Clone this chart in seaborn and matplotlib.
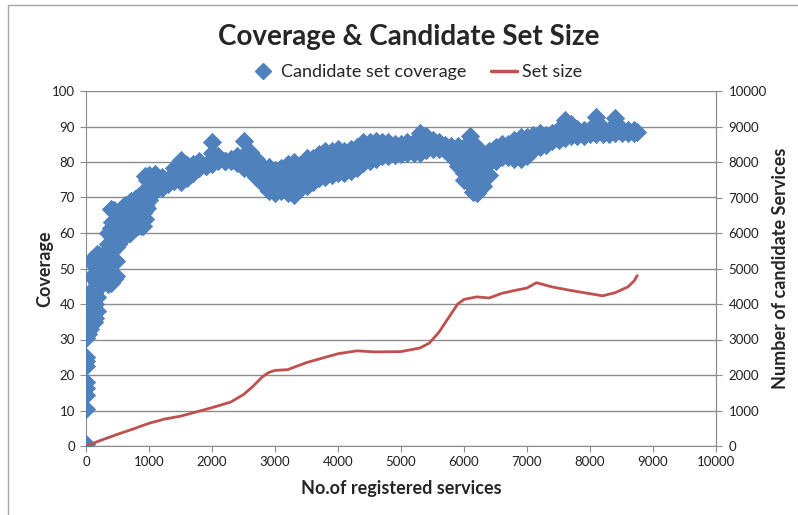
import matplotlib
matplotlib.use("Agg")
import matplotlib.pyplot as plt
from matplotlib.lines import Line2D
import seaborn as sns
import pandas as pd

# registered services (x) with low / middle / high coverage readings per column
col_x = [100, 200, 300, 400, 500, 600, 700, 800, 900, 1000,
         1100, 1200, 1300, 1400, 1500, 1600, 1700, 1800, 1900, 2000,
         2100, 2200, 2300, 2400, 2500, 2600, 2700, 2800, 2900, 3000,
         3100, 3200, 3300, 3400, 3500, 3600, 3700, 3800, 3900, 4000,
         4100, 4200, 4300, 4400, 4500, 4600, 4700, 4800, 4900, 5000,
         5100, 5200, 5300, 5400, 5500, 5600, 5700, 5800, 5900, 6000,
         6100, 6200, 6300, 6400, 6500, 6600, 6700, 6800, 6900, 7000,
         7100, 7200, 7300, 7400, 7500, 7600, 7700, 7800, 7900, 8000,
         8100, 8200, 8300, 8400, 8500, 8600, 8700]
cov_lo = [35, 45, 46.8, 46, 57, 59, 60, 62, 62, 69.4,
          71.8, 72.8, 73.8, 74.6, 74.3, 75.5, 76.8, 78.3, 78.8, 79.3,
          80.2, 80.2, 80.2, 79.8, 78.3, 77.8, 75.8, 74.1, 71.8, 71.3,
          71.8, 71.3, 70.8, 72.3, 73.1, 74.3, 75.5, 75.8, 76.3, 76.8,
          77, 77.4, 78.3, 79.8, 80.3, 80.8, 81.6, 81.8, 82.1, 82.3,
          82.5, 82.5, 82.5, 83.3, 83.8, 83.8, 83.3, 81.8, 78.8, 74.8,
          73.8, 71.2, 73.1, 76.3, 80.3, 81.3, 81.3, 80.8, 80.8, 81.8,
          83.3, 84.3, 84.8, 85.8, 86.3, 86.8, 87.3, 87.3, 87.3, 87.8,
          87.8, 87.8, 88, 88.3, 88.3, 88.3, 88.3]
cov_mid = [44, 49.5, 50, 56.5, 61.5, 63.5, 64.5, 65.8, 65.5, 72.8,
           74.2, 74.3, 74.5, 76.4, 77.5, 77.3, 78.1, 79.3, 79, 82.4,
           81, 80.3, 80.5, 80.8, 82, 80.2, 78.3, 76.5, 75.2, 74.5,
           75, 75.4, 75.3, 75.8, 77.1, 77.8, 78.9, 79.5, 79.8, 80.2,
           80.1, 80.5, 81.3, 82.8, 83, 83.4, 83.7, 83.6, 83.6, 83.8,
           84, 84, 85.3, 85.2, 85, 84.8, 84, 83.2, 81.7, 79.5,
           80.5, 77.7, 77.6, 79.7, 82.2, 83.3, 83.3, 83.5, 83.9, 84.4,
           85.5, 86.2, 86.3, 87, 87.7, 89.2, 89, 88.2, 88.1, 88.5,
           90.3, 88.7, 88.4, 90.3, 88.7, 88.6, 88.6]
cov_hi = [52.7, 53.7, 53.7, 66.7, 66, 67.7, 68.6, 69.6, 69.2, 76.2,
          76.6, 75.7, 75.2, 78.2, 80.7, 79.2, 79.4, 80.4, 79.2, 85.5,
          81.8, 80.4, 80.8, 81.8, 86, 82.7, 80.8, 79, 78.7, 77.7,
          78.2, 79.4, 79.9, 79.2, 81.2, 81.2, 82.2, 83.2, 83.2, 83.7,
          83.2, 83.7, 84.2, 85.7, 85.7, 86, 85.7, 85.5, 85.2, 85.2,
          85.5, 85.5, 88.1, 87.2, 86.2, 85.7, 84.7, 84.6, 84.6, 84.2,
          87.2, 84.2, 82.2, 83.2, 84.2, 85.2, 85.2, 86.2, 87, 87,
          87.7, 88.2, 87.7, 88.2, 89.2, 91.7, 90.7, 89.2, 88.9, 89.2,
          92.8, 89.7, 88.9, 92.3, 89.2, 88.9, 88.9]

# single readings near the start and inside the thick parts of the band
extra_x = [0, 0, 0, 0, 0, 0, 0, 0, 0,
           30, 30, 30, 30, 60, 60, 60, 100, 100,
           120, 120, 120, 120, 120, 150, 150, 150, 150, 150,
           180, 180, 180, 180, 180, 230, 230, 230, 250, 250,
           280, 280, 280, 350, 350, 350, 350, 350, 400, 400,
           420, 420, 420, 420, 450, 450, 450, 450, 450,
           480, 480, 480, 480, 480, 520, 520, 520, 580, 580, 580,
           620, 620, 620, 680, 680, 680, 720, 720, 720,
           780, 780, 780, 820, 820, 820, 880, 880, 880,
           940, 940, 940, 940, 970, 970, 970,
           2950, 2950, 3250, 3250, 6000, 6000, 6100, 6100,
           6150, 6150, 6150, 6150, 6200, 6200, 8750]
extra_cov = [0.5, 10.5, 14.5, 16.3, 18, 22.5, 24, 25, 30.5,
             31.5, 35, 38.5, 41.5, 33, 37, 41, 39, 48,
             35, 39, 43, 47, 51, 36, 40, 44, 48, 52.5,
             38, 42, 46, 50, 54, 45, 49, 53, 46, 53,
             47, 50, 54, 45.5, 49, 53, 57, 60, 51, 61.5,
             55, 59, 63, 66.5, 47, 52, 58, 63, 66.5,
             48, 52, 56, 60, 64, 58, 62, 66, 59, 63, 67,
             60, 64, 68, 60, 64, 68, 61, 65, 69,
             61.5, 65.5, 69.5, 62, 66, 70, 62, 66, 69.5,
             64, 68, 72, 76, 67, 71, 75,
             73, 77, 73, 77.5, 77, 82, 77, 84,
             71.5, 75, 79, 83, 74.5, 81, 88.5]

# candidate set size (right axis)
set_x = [0, 250, 500, 750, 1000, 1250, 1500, 1750, 2000, 2300,
         2500, 2650, 2800, 2900, 3000, 3200, 3500, 3800, 4000, 4300,
         4600, 5000, 5300, 5450, 5600, 5750, 5900, 6000, 6200, 6400,
         6600, 6800, 7000, 7150, 7400, 7700, 8000, 8200, 8400, 8600,
         8700, 8750]
set_size = [0, 170, 330, 480, 640, 760, 840, 960, 1080, 1240,
            1450, 1680, 1950, 2070, 2130, 2150, 2350, 2500, 2600, 2680,
            2650, 2660, 2760, 2900, 3200, 3600, 4000, 4130, 4200, 4170,
            4300, 4380, 4450, 4600, 4480, 4380, 4290, 4230, 4320, 4480,
            4650, 4800]

BLUE = "#4f81bd"
RED = "#c0504d"
GRID = "#8c8c8c"

sns.set_style("white")
plt.rcParams["font.family"] = ["Lato", "DejaVu Sans"]

cov_df = pd.DataFrame({
    "services": col_x * 3 + extra_x,
    "coverage": cov_lo + cov_mid + cov_hi + extra_cov,
})
set_df = pd.DataFrame({"services": set_x, "size": set_size})

fig = plt.figure(figsize=(7.98, 5.15), dpi=100)
ax = fig.add_axes([86 / 798, 1 - 446 / 515, 630 / 798, 355 / 515])

sns.scatterplot(data=cov_df, x="services", y="coverage", marker="D", s=85,
                color=BLUE, edgecolor=BLUE, linewidth=0.6, ax=ax, legend=False,
                zorder=3)

ax2 = ax.twinx()
sns.lineplot(data=set_df, x="services", y="size", color=RED, lw=2.0, ax=ax2,
             legend=False)

ax.set_xlim(0, 10000)
ax.set_ylim(0, 100)
ax2.set_ylim(0, 10000)
ax.set_xticks(range(0, 10001, 1000))
ax.set_yticks(range(0, 101, 10))
ax2.set_yticks(range(0, 10001, 1000))

ax.yaxis.grid(True, color=GRID, lw=1)
ax.set_axisbelow(True)
for a in (ax, ax2):
    a.spines["top"].set_visible(False)
    for side in ("left", "right", "bottom"):
        a.spines[side].set_color(GRID)
ax2.spines["left"].set_visible(False)
ax2.spines["bottom"].set_visible(False)

ax.tick_params(axis="both", direction="out", length=4, color=GRID,
               labelsize=9.5, labelcolor="#222222")
ax.tick_params(axis="y", left=True, pad=4)
ax.tick_params(axis="x", bottom=True, pad=3)
ax2.tick_params(axis="y", right=True, direction="out", length=4, color=GRID,
                labelsize=9.5, labelcolor="#222222", pad=5)

ax.set_xlabel("No.of registered services", fontsize=13, fontweight="bold",
              labelpad=9)
ax.set_ylabel("Coverage", fontsize=13, fontweight="bold", labelpad=-1)
ax2.set_ylabel("Number of candidate Services", fontsize=13, fontweight="bold",
               labelpad=4)

fig.text(409 / 798, 1 - 37 / 515, "Coverage & Candidate Set Size",
         ha="center", va="center", fontsize=20, fontweight="bold")

handles = [Line2D([], [], marker="D", ls="none", color=BLUE, markersize=8),
           Line2D([], [], color=RED, lw=2.5)]
fig.legend(handles, ["Candidate set coverage", "Set size"], loc="center",
           bbox_to_anchor=(416 / 798, 1 - 72 / 515), ncol=2, frameon=False,
           fontsize=13, handlelength=1.4, handletextpad=0.3,
           columnspacing=1.4)

# chart area border (Excel style)
fig.add_artist(Line2D([8 / 798, 8 / 798], [0, 1 - 5 / 515],
                      transform=fig.transFigure, color="#a6a6a6", lw=1))
fig.add_artist(Line2D([8 / 798, 1], [1 - 5 / 515, 1 - 5 / 515],
                      transform=fig.transFigure, color="#a6a6a6", lw=1))

fig.savefig("out.png", dpi=100)
